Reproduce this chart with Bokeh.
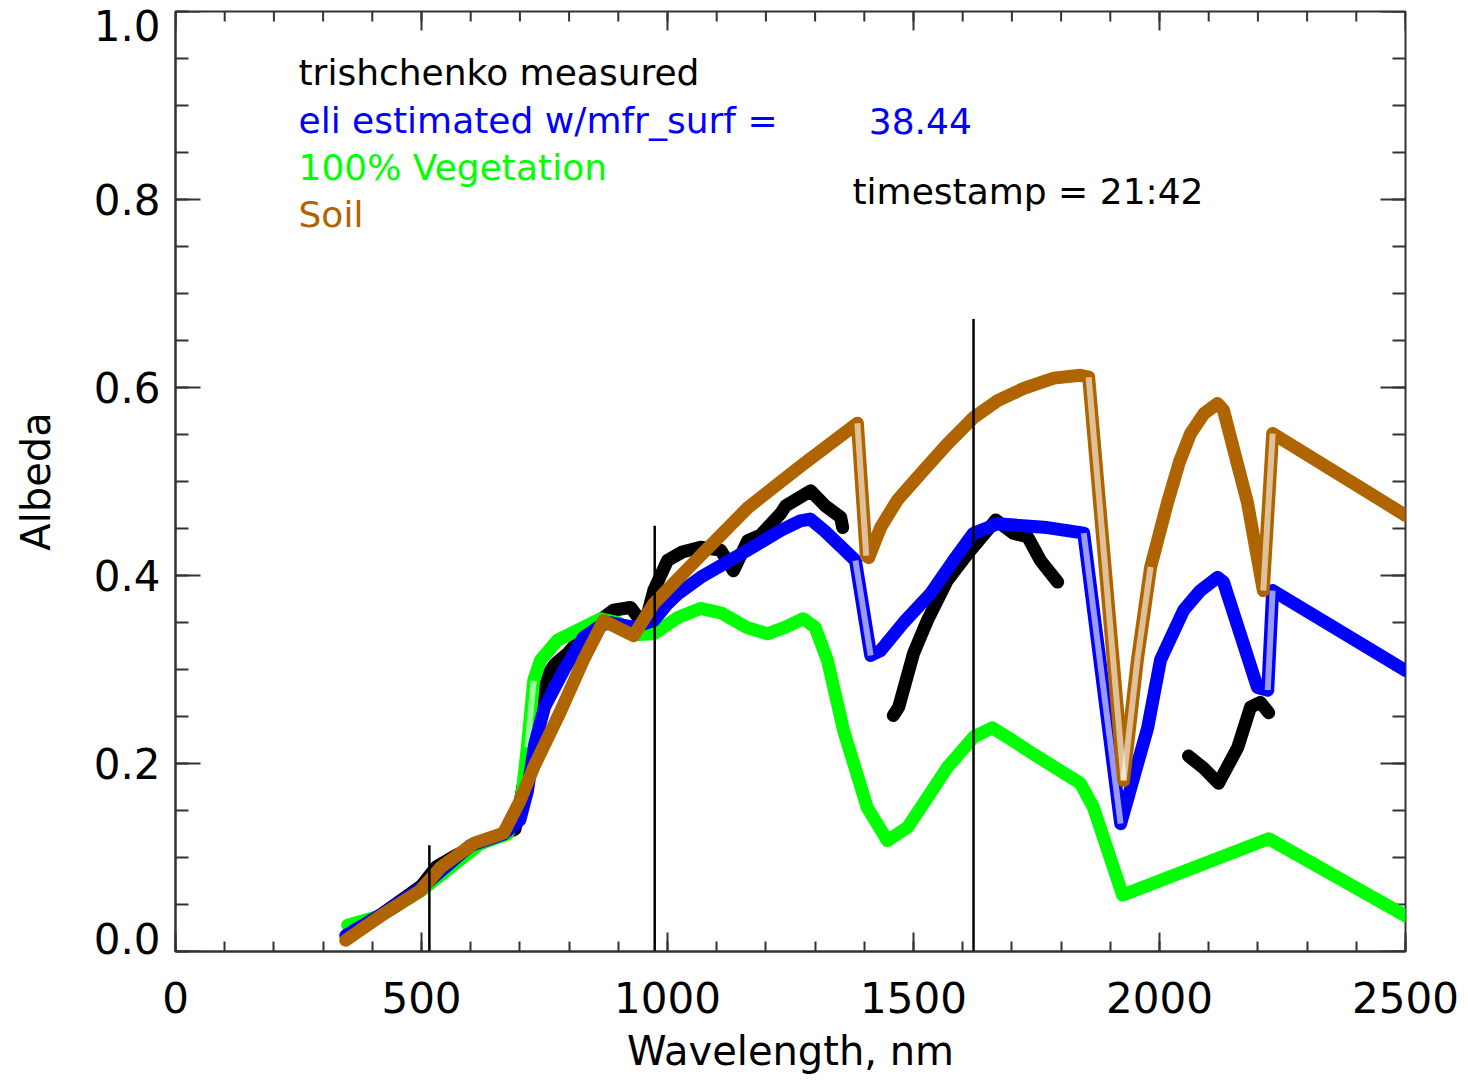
from bokeh.plotting import figure
from bokeh.models import Range1d, FixedTicker, Label, CustomJSTickFormatter
from bokeh.embed import file_html
from bokeh.resources import INLINE

# ---------------- data ----------------
# trishchenko measured (three separate pieces)
meas1_x = [350, 420, 500, 530, 569, 620, 667, 690, 715, 730, 748, 770, 797, 843, 890, 925, 945, 960,
           972, 1000, 1030, 1067, 1108, 1134, 1163, 1189, 1230, 1240, 1291, 1321, 1352, 1356]
meas1_y = [0.015, 0.040, 0.070, 0.090, 0.102, 0.115, 0.125, 0.130, 0.200, 0.250, 0.288, 0.305, 0.317,
           0.345, 0.363, 0.366, 0.352, 0.360, 0.384, 0.416, 0.425, 0.430, 0.427, 0.405, 0.437, 0.443,
           0.466, 0.474, 0.490, 0.474, 0.462, 0.451]
meas2_x = [1459, 1470, 1500, 1528, 1569, 1610, 1650, 1667, 1703, 1732, 1758, 1793]
meas2_y = [0.251, 0.260, 0.317, 0.352, 0.395, 0.423, 0.448, 0.459, 0.445, 0.441, 0.416, 0.393]
meas3_x = [2059, 2090, 2120, 2159, 2185, 2205, 2222]
meas3_y = [0.208, 0.195, 0.179, 0.217, 0.260, 0.265, 0.254]

# eli estimated w/mfr_surf
est_x = [346, 420, 500, 600, 667, 690, 700, 715, 730, 750, 790, 829, 860, 880, 930, 972, 1000, 1020,
         1067, 1163, 1230, 1270, 1290, 1320, 1382, 1413, 1433, 1480, 1535, 1580, 1622, 1671, 1772,
         1846, 1921, 1976, 2002, 2049, 2083, 2118, 2130, 2199, 2220, 2230, 2500]
est_y = [0.017, 0.040, 0.068, 0.113, 0.125, 0.135, 0.140, 0.170, 0.220, 0.260, 0.300, 0.334, 0.345,
         0.350, 0.345, 0.352, 0.370, 0.380, 0.398, 0.427, 0.448, 0.458, 0.460, 0.447, 0.416, 0.315,
         0.320, 0.350, 0.381, 0.415, 0.445, 0.455, 0.451, 0.445, 0.136, 0.238, 0.310, 0.363, 0.384,
         0.398, 0.393, 0.281, 0.278, 0.384, 0.299]

# 100% Vegetation
veg_x = [350, 417, 500, 560, 620, 675, 695, 705, 715, 728, 742, 776, 864, 900, 931, 972, 1020, 1067,
         1110, 1160, 1203, 1240, 1276, 1300, 1325, 1358, 1406, 1447, 1488, 1530, 1569, 1622, 1660,
         1700, 1744, 1839, 1866, 1925, 2222, 2500]
veg_y = [0.028, 0.038, 0.065, 0.090, 0.115, 0.125, 0.147, 0.170, 0.217, 0.288, 0.310, 0.331, 0.354,
         0.350, 0.337, 0.338, 0.355, 0.365, 0.360, 0.345, 0.338, 0.345, 0.354, 0.345, 0.310, 0.235,
         0.153, 0.118, 0.132, 0.165, 0.196, 0.228, 0.238, 0.225, 0.210, 0.179, 0.153, 0.060, 0.120,
         0.038]

# Soil
soil_x = [346, 423, 498, 540, 606, 667, 700, 728, 783, 829, 870, 931, 972, 1067, 1163, 1270, 1386,
          1404, 1409, 1433, 1467, 1514, 1569, 1622, 1671, 1724, 1785, 1839, 1856, 1927, 1955, 1982,
          2016, 2040, 2063, 2090, 2118, 2130, 2179, 2211, 2230, 2500]
soil_y = [0.012, 0.040, 0.065, 0.090, 0.115, 0.126, 0.160, 0.196, 0.256, 0.310, 0.352, 0.336, 0.370,
          0.421, 0.472, 0.516, 0.562, 0.421, 0.419, 0.451, 0.480, 0.508, 0.540, 0.568, 0.586, 0.599,
          0.610, 0.613, 0.611, 0.182, 0.310, 0.409, 0.477, 0.520, 0.551, 0.572, 0.583, 0.576, 0.477,
          0.384, 0.551, 0.464]

# vertical marker lines
vline_x = [516, 974, 1622]
vline_top = [0.113, 0.453, 0.673]

# ticks
xtick_values = [0, 500, 1000, 1500, 2000, 2500]
xminor_values = list(range(0, 2501, 100))
ytick_values = [0.0, 0.2, 0.4, 0.6, 0.8, 1.0]
yminor_values = [round(i * 0.05, 2) for i in range(21)]
ytick_labels = ["0.0", "0.2", "0.4", "0.6", "0.8", "1.0"]

legend_texts = ["trishchenko measured", "eli estimated w/mfr_surf =", "100% Vegetation", "Soil"]
mfr_surf_value = "38.44"
timestamp_text = "timestamp = 21:42"

BLACK = "#000000"
BLUE = "#0000FF"
GREEN = "#00FF00"
BROWN = "#B06400"
AXC = "#333333"
FONT = "DejaVu Sans"

# ---------------- figure ----------------
W, H = 1468, 1081
ML, MR, MT, MB = 175, 63, 11, 130
PXX = (W - ML - MR) / 2500.0      # px per nm
PXY = (H - MT - MB) / 1.0         # px per albedo unit

p = figure(width=W, height=H, x_range=Range1d(0, 2500), y_range=Range1d(0, 1),
           output_backend="svg", toolbar_location=None,
           min_border_left=ML, min_border_right=MR, min_border_top=MT, min_border_bottom=MB,
           x_axis_label="Wavelength, nm", y_axis_label="Albeda")
p.grid.visible = False
p.outline_line_color = AXC
p.outline_line_width = 2
p.background_fill_color = "white"
p.border_fill_color = "white"


def style_axis(ax):
    ax.axis_line_color = AXC
    ax.axis_line_width = 2
    ax.major_tick_line_color = AXC
    ax.minor_tick_line_color = AXC
    ax.major_tick_line_width = 2
    ax.minor_tick_line_width = 2
    ax.major_tick_out = 0
    ax.minor_tick_out = 0
    ax.major_label_text_font = FONT
    ax.major_label_text_font_size = "42px"
    ax.major_label_text_color = "black"
    ax.axis_label_text_font = FONT
    ax.axis_label_text_font_style = "normal"
    ax.axis_label_text_font_size = "40px"
    ax.axis_label_text_color = "black"


XMAJ, XMIN = 19, 10   # tick lengths, px
YMAJ, YMIN = 25, 13

xa = p.xaxis[0]
style_axis(xa)
xa.ticker = FixedTicker(ticks=xtick_values, minor_ticks=xminor_values)
xa.major_tick_in = XMAJ
xa.minor_tick_in = XMIN
xa.major_label_standoff = 30
xa.axis_label_standoff = 12

# left axis: end labels are set slightly inward (as in the original); the major
# tick marks themselves are drawn below at the true values.
ylabel_pos = [v + (13 / PXY if v == 0.0 else (-14 / PXY if v == 1.0 else 0.0)) for v in ytick_values]
ya = p.yaxis[0]
style_axis(ya)
ya.ticker = FixedTicker(ticks=ylabel_pos, minor_ticks=yminor_values)
ya.major_tick_in = 0
ya.minor_tick_in = YMIN
ya.major_label_standoff = 15
ya.axis_label_standoff = 32
ya.formatter = CustomJSTickFormatter(args=dict(labels=ytick_labels), code="return labels[index];")

# major ticks on the left, and mirrored ticks on top and right
tick_kw = dict(line_color=AXC, line_width=2)
p.segment(x0=[0] * len(ytick_values), y0=ytick_values,
          x1=[YMAJ / PXX] * len(ytick_values), y1=ytick_values, **tick_kw)
p.segment(x0=[2500] * len(ytick_values), y0=ytick_values,
          x1=[2500 - YMAJ / PXX] * len(ytick_values), y1=ytick_values, **tick_kw)
p.segment(x0=[2500] * len(yminor_values), y0=yminor_values,
          x1=[2500 - YMIN / PXX] * len(yminor_values), y1=yminor_values, **tick_kw)
p.segment(x0=xtick_values, y0=[1] * len(xtick_values),
          x1=xtick_values, y1=[1 - XMAJ / PXY] * len(xtick_values), **tick_kw)
p.segment(x0=xminor_values, y0=[1] * len(xminor_values),
          x1=xminor_values, y1=[1 - XMIN / PXY] * len(xminor_values), **tick_kw)


def draw_curve(xs, ys, color):
    p.line(xs, ys, line_color=color, line_width=13, line_join="round", line_cap="round")
    sx, sy = [], []
    for i in range(len(xs) - 1):
        dxp = (xs[i + 1] - xs[i]) * PXX
        dyp = (ys[i + 1] - ys[i]) * PXY
        if abs(dyp) > 6 * abs(dxp) and abs(dyp) > 60:
            sx.append([xs[i], xs[i + 1]])
            sy.append([ys[i], ys[i + 1]])
    if sx:
        p.multi_line(sx, sy, line_color="white", line_width=6, line_alpha=0.6)


draw_curve(meas1_x, meas1_y, BLACK)
draw_curve(meas2_x, meas2_y, BLACK)
draw_curve(meas3_x, meas3_y, BLACK)
draw_curve(veg_x, veg_y, GREEN)
draw_curve(est_x, est_y, BLUE)
draw_curve(soil_x, soil_y, BROWN)

p.segment(x0=vline_x, y0=[0] * len(vline_x), x1=vline_x, y1=vline_top,
          line_color="black", line_width=2.5)

# legend-like texts
legend_colors = [BLACK, BLUE, GREEN, BROWN]
legend_y = [0.935, 0.884, 0.834, 0.784]
for t, c, yy in zip(legend_texts, legend_colors, legend_y):
    p.add_layout(Label(x=250, y=yy, text=t, text_color=c, text_font=FONT, text_font_size="36px",
                       text_baseline="middle"))
p.add_layout(Label(x=1409, y=0.884, text=mfr_surf_value, text_color=BLUE, text_font=FONT,
                   text_font_size="36px", text_baseline="middle"))
p.add_layout(Label(x=1376, y=0.809, text=timestamp_text, text_color=BLACK, text_font=FONT,
                   text_font_size="36px", text_baseline="middle"))

open("out.html", "w").write(file_html(p, INLINE))
